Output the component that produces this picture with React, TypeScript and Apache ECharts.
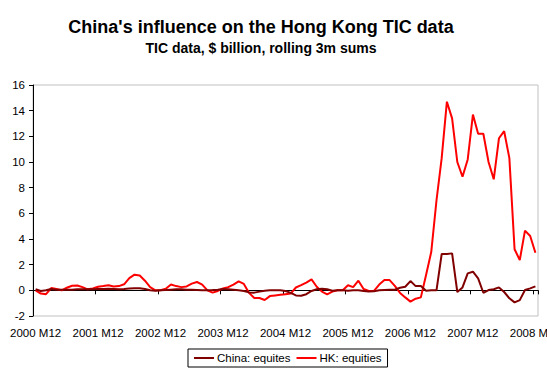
import React, { useEffect, useRef } from "react";
import * as echarts from "echarts";

const startYear = 2000;
const startMonth = 12;
const monthCount = 97;
const categories: string[] = [];
for (let k = 0; k < monthCount; k++) {
  const m = ((startMonth - 1 + k) % 12) + 1;
  const y = startYear + Math.floor((startMonth - 1 + k) / 12);
  categories.push(`${y} M${m}`);
}

const chinaEquities = [
  0.08, -0.05, 0.0, 0.1, 0.05, 0.05, 0.05, 0.05, 0.08, 0.08,
  0.08, 0.08, 0.1, 0.1, 0.12, 0.1, 0.08, 0.1, 0.14, 0.16,
  0.16, 0.1, 0.0, -0.03, 0.0, 0.02, 0.05, 0.08, 0.08, 0.05,
  0.04, 0.03, 0.0, 0.0, 0.02, 0.05, 0.1, 0.08, 0.05, 0.0,
  -0.05, -0.16, -0.18, -0.1, -0.03, 0.0, 0.0, 0.0, -0.05, -0.2,
  -0.4, -0.42, -0.3, -0.05, 0.08, 0.12, 0.08, -0.03, 0.0, 0.0,
  -0.03, 0.0, 0.0, -0.05, -0.1, -0.08, 0.0, 0.03, 0.05, 0.05,
  0.2, 0.28, 0.72, 0.33, 0.33, -0.03, 0.0, 0.0, 2.83, 2.83,
  2.88, -0.13, 0.23, 1.32, 1.45, 0.93, -0.19, 0.02, 0.08, 0.23,
  -0.13, -0.62, -0.94, -0.76, 0.02, 0.15, 0.31,
];

const hkEquities = [
  0.0, -0.25, -0.3, 0.18, 0.1, 0.0, 0.2, 0.36, 0.38, 0.25,
  0.08, 0.15, 0.28, 0.33, 0.4, 0.3, 0.33, 0.47, 0.95, 1.22,
  1.15, 0.75, 0.25, 0.0, 0.0, 0.12, 0.45, 0.33, 0.25, 0.3,
  0.52, 0.65, 0.45, 0.0, -0.18, -0.05, 0.15, 0.25, 0.45, 0.7,
  0.5, -0.2, -0.6, -0.6, -0.75, -0.45, -0.4, -0.35, -0.3, -0.25,
  0.22, 0.4, 0.6, 0.85, 0.28, -0.1, -0.31, -0.1, 0.0, 0.0,
  0.4, 0.25, 0.75, 0.1, -0.05, -0.05, 0.45, 0.8, 0.8, 0.35,
  -0.2, -0.55, -0.88, -0.65, -0.55, 1.2, 3.0, 7.0, 10.3, 14.7,
  13.4, 10.0, 8.85, 10.2, 13.7, 12.2, 12.2, 10.0, 8.65, 11.85,
  12.4, 10.3, 3.2, 2.36, 4.65, 4.23, 2.93,
];

const titleText = "China's influence on the Hong Kong TIC data";
const subtitleText = "TIC data, $ billion, rolling 3m sums";
const seriesNames = ["China: equites", "HK: equities"];

const FONT = 'Arial, "Liberation Sans", sans-serif';

export default function App() {
  const ref = useRef<HTMLDivElement>(null);
  useEffect(() => {
    if (!ref.current) return;
    const chart = echarts.init(ref.current, undefined, { renderer: "svg" });
    chart.setOption({
      animation: false,
      backgroundColor: "#ffffff",
      textStyle: { fontFamily: FONT },
      title: [
        {
          text: titleText,
          left: 261,
          top: 18,
          textAlign: "center",
          padding: 0,
          textStyle: { fontFamily: FONT, fontSize: 18, fontWeight: "bold", color: "#000" },
        },
        {
          text: subtitleText,
          left: 261,
          top: 41,
          textAlign: "center",
          padding: 0,
          textStyle: { fontFamily: FONT, fontSize: 14, fontWeight: "bold", color: "#000" },
        },
      ],
      legend: {
        left: 188,
        top: 349,
        padding: [3, 6, 3, 6],
        borderColor: "#000",
        borderWidth: 1,
        itemGap: 6,
        itemWidth: 20,
        itemHeight: 2,
        icon: "rect",
        textStyle: { fontFamily: FONT, fontSize: 11.5, color: "#000", padding: [0, 0, 0, -2] },
        data: seriesNames,
      },
      grid: {
        left: 33,
        right: 9,
        top: 85,
        bottom: 58,
        show: true,
        borderColor: "#c0c0c0",
        borderWidth: 1,
        containLabel: false,
        outerBoundsMode: "none",
      },
      xAxis: [
        {
          type: "category",
          data: categories,
          boundaryGap: true,
          position: "bottom",
          axisLine: { show: false, onZero: false },
          axisTick: { show: false },
          splitLine: { show: false },
          axisLabel: {
            interval: 11,
            color: "#000",
            fontFamily: FONT,
            fontSize: 11.5,
            margin: 11,
            hideOverlap: false,
          },
        },
        {
          type: "category",
          data: categories,
          boundaryGap: true,
          position: "top",
          axisLine: { show: true, onZero: true, lineStyle: { color: "#000", width: 1 } },
          axisTick: { show: true, interval: 11, inside: true, length: 4, lineStyle: { color: "#000" } },
          axisLabel: { show: false },
          splitLine: { show: false },
        },
      ],
      yAxis: {
        type: "value",
        min: -2,
        max: 16,
        interval: 2,
        axisLine: { show: true, onZero: false, lineStyle: { color: "#000", width: 1 } },
        axisTick: { show: true, length: 4, lineStyle: { color: "#000" } },
        splitLine: { show: false },
        axisLabel: { color: "#000", fontFamily: FONT, fontSize: 11.5, margin: 8 },
      },
      series: [
        {
          name: seriesNames[0],
          type: "line",
          xAxisIndex: 0,
          data: chinaEquities,
          showSymbol: false,
          symbol: "none",
          z: 3,
          lineStyle: { color: "#800000", width: 2 },
          itemStyle: { color: "#800000" },
        },
        {
          name: seriesNames[1],
          type: "line",
          xAxisIndex: 0,
          data: hkEquities,
          showSymbol: false,
          symbol: "none",
          z: 2,
          lineStyle: { color: "#ff0000", width: 2 },
          itemStyle: { color: "#ff0000" },
        },
      ],
    });
    return () => chart.dispose();
  }, []);
  return <div ref={ref} style={{ width: 547, height: 374, position: "absolute", left: 0, top: 0 }} />;
}
